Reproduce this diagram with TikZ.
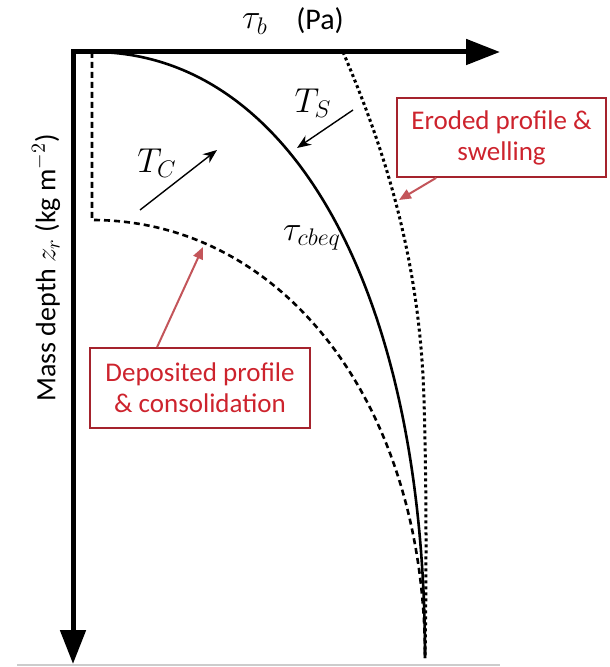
\documentclass[tikz,border=0pt]{standalone}
\usepackage{fontspec}
\setmainfont{Carlito}
\usetikzlibrary{arrows.meta}

\definecolor{boxred}{RGB}{165,35,45}
\definecolor{labelred}{RGB}{205,35,45}
\definecolor{pointred}{RGB}{195,85,90}

\begin{document}
\begin{tikzpicture}[x=0.5pt,y=-0.5pt,>=Latex,
  axis/.style={line width=2.5pt,{Triangle[length=17pt,width=12.5pt]}-{Triangle[length=17pt,width=12.5pt]}},
  profile/.style={line width=1.3pt},
  deposited/.style={line width=1.3pt,dash pattern=on 3pt off 2pt},
  eroded/.style={line width=1.5pt,dash pattern=on 1.5pt off 1.5pt},
  flux/.style={line width=0.7pt,-{Stealth[length=7pt,width=5.5pt]}},
  notebox/.style={draw=boxred,line width=0.9pt,text=labelred,align=center,
    font=\fontsize{13.5}{15.5}\selectfont,inner sep=2pt},
  pointer/.style={draw=pointred,line width=1pt,-{Triangle[length=6pt,width=5pt]}}]

  \useasboundingbox (0,0) rectangle (609,667);

  % axes
  \coordinate (origin) at (73,52);
  \coordinate (xend) at (500,52);
  \coordinate (zend) at (73,664);
  \draw[gray!40,line width=0.8pt] (17,665) -- (500,665);
  \draw[axis] (xend) -- (origin) -- (zend);

  \node (taub) at (255,24) {\fontsize{18}{18}\selectfont$\tau_b$};
  \node (pa) at (320,21) {\fontsize{15}{17}\selectfont(Pa)};
  \node[rotate=90] (zlabel) at (46,268) {\fontsize{14}{16}\selectfont Mass depth $z_r$ (kg m$^{-2}$)};

  % profiles
  \draw[profile] (93,52) .. controls (290,52) and (425,290) .. (425,658);
  \draw[deposited] (92,52) -- (92,220) .. controls (280,220) and (425,400) .. (425,658);
  \draw[eroded] (343,52) .. controls (385,150) and (420,260) .. (424,400)
    .. controls (427,500) and (426,600) .. (425,658);

  \node (tceq) at (312,238) {\fontsize{17}{17}\selectfont$\tau_{cbeq}$};

  % consolidation / swelling
  \node (tc) at (157,163) {\fontsize{17}{17}\selectfont$T_C$};
  \node (ts) at (313,103) {\fontsize{17}{17}\selectfont$T_S$};
  \coordinate (tcfrom) at (140,210);
  \coordinate (tcto) at (217,150);
  \coordinate (tsfrom) at (353,110);
  \coordinate (tsto) at (297,148);
  \draw[flux] (tcfrom) -- (tcto);
  \draw[flux] (tsfrom) -- (tsto);

  % notes
  \node[notebox,minimum width=104.5pt,minimum height=39.5pt] (ebox) at (501.5,137.5)
    {Eroded profile \&\\swelling};
  \node[notebox,minimum width=110pt,minimum height=40pt] (dbox) at (200,388)
    {Deposited profile\\\& consolidation};
  \coordinate (etip) at (399,200);
  \coordinate (dtip) at (203,247);
  \draw[pointer] ([xshift=20pt]ebox.south west) -- (etip);
  \draw[pointer] ([xshift=34pt]dbox.north west) -- (dtip);
\end{tikzpicture}
\end{document}
